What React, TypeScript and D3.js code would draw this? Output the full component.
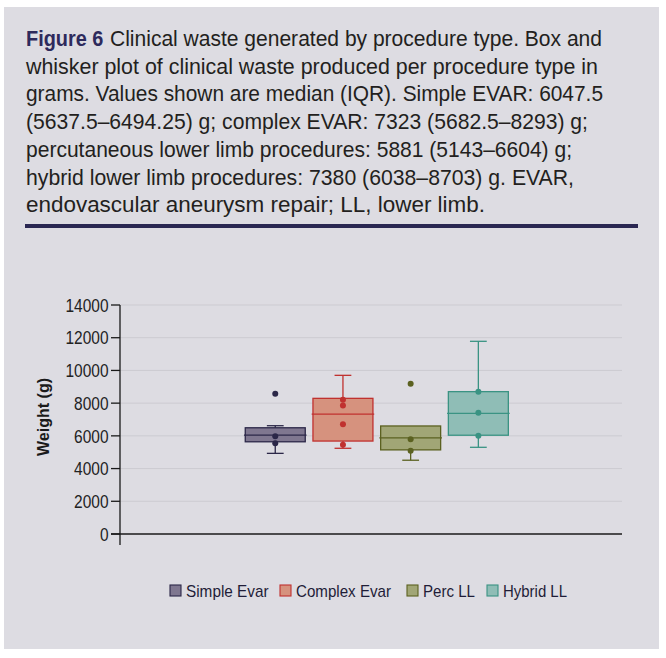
import React from "react";
import * as d3 from "d3";

const categories = ["Simple Evar", "Complex Evar", "Perc LL", "Hybrid LL"];
const q1 = [5637.5, 5682.5, 5143, 6038];
const medians = [6047.5, 7323, 5881, 7380];
const q3 = [6494.25, 8293, 6604, 8703];
const whiskerLow = [4930, 5240, 4510, 5300];
const whiskerHigh = [6620, 9700, 6604, 11780];
const points = [
  [8580, 5980, 5550],
  [8210, 7850, 6710, 5460],
  [9190, 5800, 5090],
  [8700, 7420, 6010],
];
const yTicks = [0, 2000, 4000, 6000, 8000, 10000, 12000, 14000];
const fills = ["#7f7790", "#d6927e", "#a1a676", "#8fbdb6"];
const strokes = ["#2b2748", "#c0312f", "#5b6120", "#3a9383"];

const titleLines = [
  "Clinical waste generated by procedure type. Box and",
  "whisker plot of clinical waste produced per procedure type in",
  "grams. Values shown are median (IQR). Simple EVAR: 6047.5",
  "(5637.5–6494.25) g; complex EVAR: 7323 (5682.5–8293) g;",
  "percutaneous lower limb procedures: 5881 (5143–6604) g;",
  "hybrid lower limb procedures: 7380 (6038–8703) g. EVAR,",
  "endovascular aneurysm repair; LL, lower limb.",
];
const titleEnds = [602, 598, 603, 588, 572, 574, 485];
const legendText = [82.6, 95, 52, 64];
const legendSq = [170, 280, 407, 487];

const FONT = "'Liberation Sans Narrow', 'Liberation Sans', Arial, sans-serif";

export default function App() {
  const y = d3.scaleLinear().domain([0, 14000]).range([534, 305]);
  const x = d3
    .scaleBand<string>()
    .domain(categories)
    .range([241.4, 512.2])
    .paddingInner(0.114)
    .paddingOuter(0.057);
  const bw = x.bandwidth();
  const capW = bw * 0.28;

  return (
    <svg
      width={666}
      height={658}
      style={{ position: "absolute", left: 0, top: 0 }}
      fontFamily={FONT}
    >
      <rect x={0} y={0} width={666} height={658} fill="#ffffff" />
      <rect x={4} y={7} width={655} height={642} fill="#dddce2" />

      {/* Title */}
      {titleLines.map((t, i) => {
        const base = 46 + i * 27.7;
        if (i === 0) {
          return (
            <g key={i}>
              <text
                x={26}
                y={base}
                fontSize={22}
                fontWeight="bold"
                fill="#2d2a5c"
                textLength={77.3}
                lengthAdjust="spacingAndGlyphs"
              >
                Figure 6
              </text>
              <text
                x={110}
                y={base}
                fontSize={22}
                fill="#231f20"
                textLength={titleEnds[i] - 110}
                lengthAdjust="spacingAndGlyphs"
              >
                {t}
              </text>
            </g>
          );
        }
        return (
          <text
            key={i}
            x={26}
            y={base}
            fontSize={22}
            fill="#231f20"
            textLength={titleEnds[i] - 26}
            lengthAdjust="spacingAndGlyphs"
          >
            {t}
          </text>
        );
      })}
      <rect x={25} y={224} width={613} height={4} fill="#2a2752" />

      {/* Gridlines */}
      {yTicks
        .filter((t) => t > 0)
        .map((t) => (
          <line
            key={"g" + t}
            x1={120}
            x2={622}
            y1={y(t)}
            y2={y(t)}
            stroke="#cccbd1"
            strokeWidth={1}
          />
        ))}

      {/* Y axis */}
      <line x1={120} x2={120} y1={305} y2={545} stroke="#1a1a1a" strokeWidth={1.3} />
      <line x1={111} x2={622} y1={y(0)} y2={y(0)} stroke="#1a1a1a" strokeWidth={1.3} />
      {yTicks.map((t) => (
        <g key={"t" + t}>
          <line x1={111} x2={120} y1={y(t)} y2={y(t)} stroke="#1a1a1a" strokeWidth={1.3} />
          <text
            x={108.5}
            y={y(t)}
            dy="0.36em"
            textAnchor="end"
            fontSize={18.5}
            fill="#222"
            textLength={String(t).length * 8.6}
            lengthAdjust="spacingAndGlyphs"
          >
            {t}
          </text>
        </g>
      ))}
      <text
        transform="translate(49,417) rotate(-90)"
        textAnchor="middle"
        fontSize={16}
        fontWeight="bold"
        fill="#1a1a1a"
        textLength={78}
        lengthAdjust="spacingAndGlyphs"
      >
        Weight (g)
      </text>

      {/* Boxes */}
      {categories.map((c, i) => {
        const x0 = x(c)!;
        const cx = x0 + bw / 2;
        const s = strokes[i];
        return (
          <g key={c}>
            <line x1={cx} x2={cx} y1={y(whiskerHigh[i])} y2={y(q3[i])} stroke={s} strokeWidth={1.3} />
            <line x1={cx} x2={cx} y1={y(q1[i])} y2={y(whiskerLow[i])} stroke={s} strokeWidth={1.3} />
            {whiskerHigh[i] > q3[i] && (
              <line
                x1={cx - capW / 2}
                x2={cx + capW / 2}
                y1={y(whiskerHigh[i])}
                y2={y(whiskerHigh[i])}
                stroke={s}
                strokeWidth={1.3}
              />
            )}
            <line
              x1={cx - capW / 2}
              x2={cx + capW / 2}
              y1={y(whiskerLow[i])}
              y2={y(whiskerLow[i])}
              stroke={s}
              strokeWidth={1.3}
            />
            <rect
              x={x0}
              y={y(q3[i])}
              width={bw}
              height={y(q1[i]) - y(q3[i])}
              fill={fills[i]}
              stroke={s}
              strokeWidth={1.3}
            />
            <line
              x1={x0 - 1.3}
              x2={x0 + bw + 1.3}
              y1={y(medians[i])}
              y2={y(medians[i])}
              stroke={s}
              strokeWidth={1.3}
            />
            {points[i].map((p, j) => (
              <circle key={j} cx={cx} cy={y(p)} r={3} fill={s} />
            ))}
          </g>
        );
      })}

      {/* Legend */}
      {categories.map((c, i) => (
        <g key={"l" + c}>
          <rect
            x={legendSq[i]}
            y={585}
            width={11}
            height={11}
            fill={fills[i]}
            stroke={strokes[i]}
            strokeWidth={1.1}
          />
          <text
            x={legendSq[i] + 16}
            y={597.3}
            fontSize={17}
            fill="#1f1d38"
            textLength={legendText[i]}
            lengthAdjust="spacingAndGlyphs"
          >
            {c}
          </text>
        </g>
      ))}
    </svg>
  );
}
